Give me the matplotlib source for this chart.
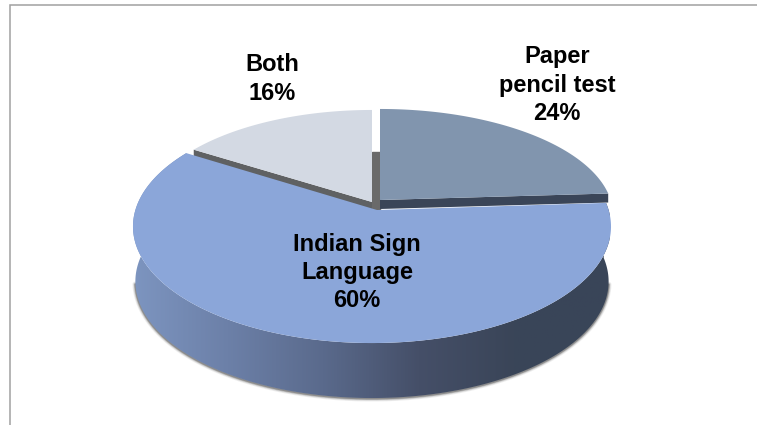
import numpy as np
import matplotlib
matplotlib.use("Agg")
import matplotlib.pyplot as plt
from matplotlib.colors import LinearSegmentedColormap
from matplotlib.patches import Polygon

# Data
labels = ["Paper\npencil test", "Indian Sign\nLanguage", "Both"]
values = [24, 60, 16]

# Layout constants, all in pixels of the 757x425 canvas
W, H = 757, 425
A, B, K = 236.6, 114.2, 0.1416  # disk radius x, y and perspective factor
DEPTH = 55
face_colors = ["#8195AE", "#8BA6D9", "#D3D9E3"]
wall_colors = ["#3A4558", None, "#5F6163"]
centers = [(380, 200), (372, 210), (372, 202)]
scales = [(0.975, 0.91), (1.0, 1.0), (0.96, 0.92)]
label_pos = [(557, 85), (357, 272.5), (272, 79)]

plt.rcParams["font.family"] = ["Liberation Sans", "DejaVu Sans"]


def arc_points(start, end, center, scale, n=200):
    # project an arc of the round pie on to the tilted view
    th = 2 * np.pi * np.linspace(start, end, n) / sum(values)
    x, y = np.sin(th), np.cos(th)
    d = 1 + K * y
    px = center[0] + scale[0] * A * x / d
    py = center[1] - scale[1] * B * y / d
    return np.column_stack([px, py])


fig, ax = plt.subplots(figsize=(W / 100, H / 100), dpi=100)
ax.set_position([0, 0, 1, 1])
ax.set_xlim(0, W)
ax.set_ylim(H, 0)
ax.axis("off")

# Frame, only top and left show
ax.plot([10, 10, W], [H, 5, 5], color="#A0A0A0", lw=1.1, solid_joinstyle="miter")

edges = np.concatenate([[0], np.cumsum(values)])

# Big slice: wall with soft shadow on its lower rim
arc = arc_points(edges[1], edges[2], centers[1], scales[1], n=400)
low = arc + [0, DEPTH]
low[:, 0] = 371 + (low[:, 0] - 371) * 0.99
wall = np.vstack([arc, low[::-1]])

rim = low[low[:, 1] > 283]
for lw, alpha in [(6, 0.07), (4.5, 0.1), (3, 0.18), (1.8, 0.28)]:
    ax.plot(rim[:, 0], rim[:, 1] + 0.5, color="#202020", lw=lw * 0.72, alpha=alpha,
            solid_capstyle="round", zorder=1)

# wall gradient runs left to right
cmap = LinearSegmentedColormap.from_list(
    "wall", ["#7D95C0", "#6C80A8", "#5A6A8C", "#454F68", "#3A4558", "#394559"])
grad = np.linspace(0, 1, 256).reshape(1, -1)
clip = Polygon(wall, closed=True, fc="none", ec="none", transform=ax.transData)
ax.add_patch(clip)
im = ax.imshow(grad, cmap=cmap, extent=(132, 610, 400, 150), aspect="auto", zorder=2)
im.set_clip_path(clip)
ax.set_xlim(0, W)
ax.set_ylim(H, 0)

# Inner wall seen through the gap between the two back slices
ax.fill([372, 380, 380, 372], [152, 152, 210, 210], color="#6A6A6A", zorder=3)

# Front walls of the back slices
for i, end in [(0, -1), (2, 0)]:
    cx, cy = centers[i]
    pts = arc_points(edges[i], edges[i + 1], centers[i], scales[i])
    tip = pts[end]
    ax.add_patch(Polygon([(cx, cy), tip, tip + [0, 9], (cx, cy + 9)], closed=True,
                         fc=wall_colors[i], ec="none", zorder=3))

# Top faces
for i in range(3):
    cx, cy = centers[i]
    pts = arc_points(edges[i], edges[i + 1], centers[i], scales[i])
    if i == 1:
        cx += 5  # tip sits a little right of the ellipse centre
    ax.add_patch(Polygon(np.vstack([[cx, cy], pts]), closed=True,
                         fc=face_colors[i], ec="none", zorder=4))

# Labels
for name, val, (x, y) in zip(labels, values, label_pos):
    ax.text(x, y, f"{name}\n{val}%", ha="center", va="center", fontsize=17,
            fontweight="bold", color="black", linespacing=1.3, zorder=5)

fig.savefig("out.png", dpi=100)
plt.close(fig)
